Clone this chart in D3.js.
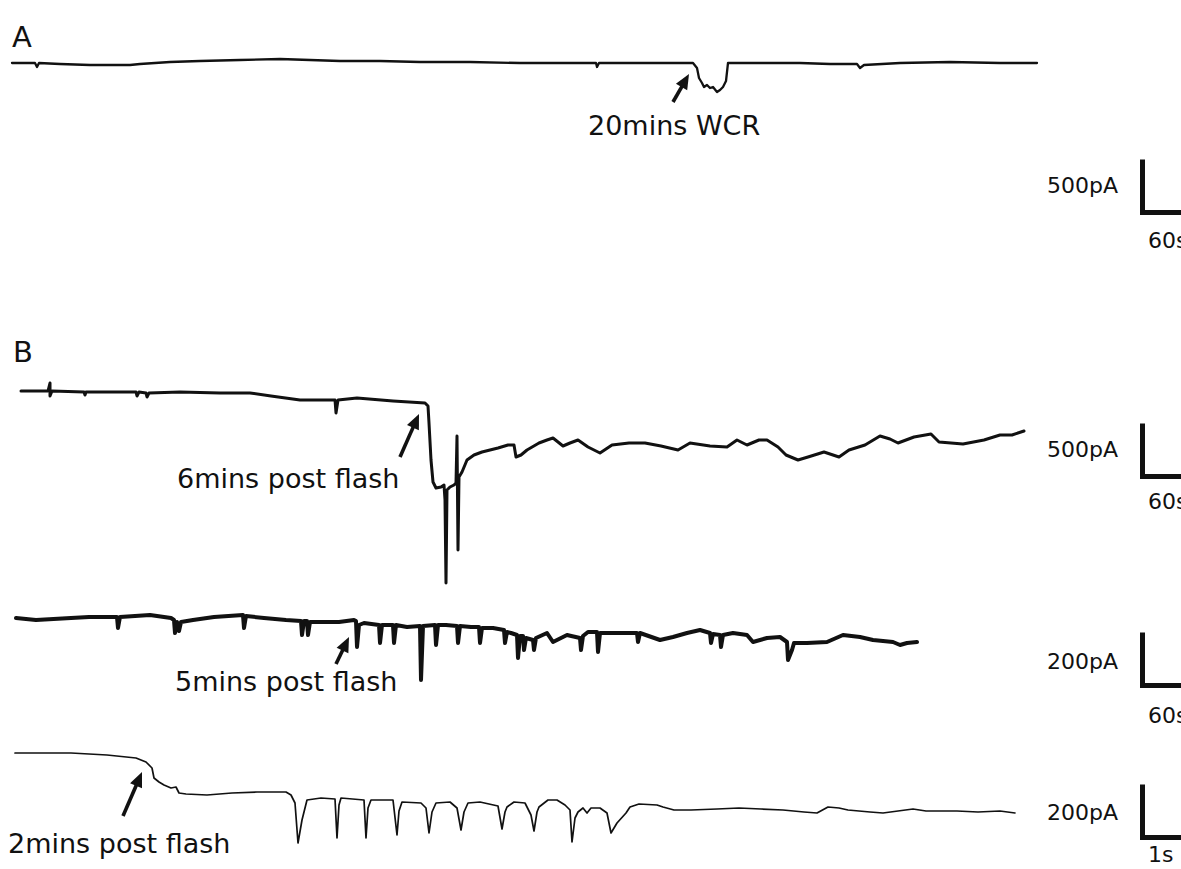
<!DOCTYPE html>
<html>
<head>
<meta charset="utf-8">
<script src="https://cdn.jsdelivr.net/npm/d3@7"></script>
<style>
  html, body { margin: 0; padding: 0; background: #fff; }
  svg { display: block; }
  text { font-family: "DejaVu Sans", sans-serif; fill: #111; }
</style>
</head>
<body>
<svg id="chart" width="1181" height="869"></svg>
<script>
// ---------------- DATA (time, current) ----------------
// Panel A : time in s, current in pA
const traceA_t = [0,18,23,25,27,48,78,118,128,158,188,228,268,298,328,368,408,458,508,584,585,587,628,681,685,687,690,692,695,698,701,705,708,711,714,715,716,748,788,818,845,848,852,888,938,988,1025];
const traceA_i = [0,0,0,-36,0,-9,-18,-18,-9,9,18,27,36,27,18,18,9,9,0,0,-36,0,0,0,-45,-135,-180,-216,-198,-225,-216,-261,-243,-216,-162,-81,0,0,0,-9,-9,-45,-18,0,9,0,0];

// Panel B, 6 mins post flash : time in s, current in pA
const traceB1_t = [0,27,29,29,31,63,64,65,115,116,118,125,126,128,159,199,229,250,279,299,314,315,317,336,372,404,407,408,410,412,415,420,423,424,425,426,429,433,435,436,437,438,441,446,453,461,469,477,487,493,495,500,506,518,526,532,542,549,557,567,579,591,608,624,640,657,669,689,706,716,726,738,746,757,765,777,787,803,818,828,844,859,869,877,893,910,918,942,963,979,991,1003];
const traceB1_i = [0,0,72,-45,0,-9,-36,-9,-9,-45,-9,-18,-54,-18,-9,-18,-18,-45,-81,-81,-81,-198,-81,-63,-90,-108,-135,-288,-621,-819,-873,-864,-846,-981,-1728,-891,-864,-846,-828,-405,-1431,-774,-729,-621,-576,-549,-531,-513,-486,-486,-594,-576,-531,-468,-441,-423,-495,-468,-441,-504,-558,-486,-468,-468,-495,-531,-468,-495,-504,-441,-486,-441,-441,-504,-576,-621,-594,-549,-594,-531,-486,-405,-432,-468,-414,-387,-459,-477,-441,-396,-396,-360];

// Panel B, 5 mins post flash : time in s, current in pA
const traceB2_t = [0,20,55,73,101,102,104,134,155,158,159,161,163,165,177,198,227,228,230,248,270,285,286,288,291,292,294,323,338,340,341,343,348,363,364,366,377,378,380,391,404,405,407,419,420,422,430,441,442,444,455,463,464,466,477,488,489,491,495,501,502,504,507,508,510,517,518,520,531,537,551,564,565,567,572,581,582,584,611,621,622,624,644,657,671,684,694,695,697,704,705,707,717,731,737,751,764,771,772,776,778,791,811,827,844,857,877,884,891,901];
const traceB2_i = [0,-7.2,0,3.6,3.6,-36,3.6,10.8,0,-7.2,-54,-14.4,-46.8,-14.4,-7.2,3.6,10.8,-36,7.2,0,-7.2,-10.8,-61.2,-10.8,-10.8,-61.2,-14.4,-14.4,-7.2,-10.8,-104.4,-25.2,-18,-25.2,-90,-25.2,-25.2,-90,-25.2,-32.4,-28.8,-223.2,-28.8,-25.2,-97.2,-25.2,-25.2,-28.8,-90,-28.8,-32.4,-32.4,-90,-36,-36,-43.2,-90,-50.4,-54,-61.2,-144,-64.8,-64.8,-115.2,-72,-79.2,-115.2,-72,-54,-86.4,-61.2,-72,-115.2,-64.8,-50.4,-50.4,-122.4,-54,-54,-54,-86.4,-54,-79.2,-68.4,-54,-43.2,-54,-90,-57.6,-61.2,-104.4,-61.2,-54,-61.2,-86.4,-72,-68.4,-86.4,-151.2,-115.2,-90,-90,-86.4,-61.2,-68.4,-79.2,-86.4,-97.2,-90,-86.4];

// Panel B, 2 mins post flash : time in ms, current in pA
const traceB3_t = [0,1120,1840,2420,2620,2740,2780,2880,2980,3120,3220,3280,3420,3840,4340,4840,5420,5520,5600,5660,5740,5840,6120,6400,6440,6480,6520,6980,7020,7060,7120,7560,7640,7680,7740,8120,8220,8280,8340,8420,8700,8840,8920,8980,9060,9300,9660,9740,9800,9840,9980,10200,10320,10380,10440,10480,10660,10840,11000,11100,11140,11200,11260,11360,11440,11520,11700,11840,11920,12040,12220,12300,12480,12840,12960,13180,13520,14040,14480,14920,15360,15780,16040,16260,16480,16660,17100,17360,17960,18220,18840,19260,19700,20000];
const traceB3_i = [0,0,-7.2,-18,-32.4,-54,-90,-104.4,-115.2,-126,-122.4,-144,-147.6,-151.2,-144,-140.4,-140.4,-151.2,-180,-324,-241.2,-169.2,-162,-165.6,-306,-187.2,-162,-169.2,-306,-198,-169.2,-169.2,-295.2,-208.8,-176.4,-180,-198,-288,-212.4,-180,-176.4,-198,-277.2,-212.4,-180,-176.4,-190.8,-273.6,-212.4,-194.4,-176.4,-180,-223.2,-280.8,-212.4,-194.4,-169.2,-169.2,-187.2,-205.2,-320.4,-234,-212.4,-198,-216,-198,-198,-216,-288,-252,-216,-194.4,-183.6,-187.2,-194.4,-205.2,-205.2,-201.6,-198,-201.6,-205.2,-212.4,-216,-194.4,-198,-205.2,-212.4,-216,-201.6,-208.8,-208.8,-212.4,-208.8,-216];

// Scale-bar values and labels
const barCurrents = [500, 500, 200, 200];          // pA
const barTimes    = [60, 60, 60, 1000];            // s, s, s, ms
const barCurrentLabels = ["500pA", "500pA", "200pA", "200pA"];
const barTimeLabels    = ["60s", "60s", "60s", "1s"];

// Annotations
const panelLabels = ["A", "B"];
const annotationLabels = ["20mins WCR", "6mins post flash", "5mins post flash", "2mins post flash"];

// ---------------- LAYOUT ----------------
const svg = d3.select("#chart");
svg.append("rect").attr("width", 1181).attr("height", 869).attr("fill", "#fff");

const rows = [
  { t: traceA_t,  v: traceA_i,  x0: 12, y0: 63,  pxPerT: 1,    pxPerPA: 1/9,   sw: 2.3, barBottom: 215, lblBase: 193, tBase: 248 },
  { t: traceB1_t, v: traceB1_i, x0: 21, y0: 391, pxPerT: 1,    pxPerPA: 1/9,   sw: 3.0, barBottom: 479, lblBase: 457, tBase: 509 },
  { t: traceB2_t, v: traceB2_i, x0: 16, y0: 618, pxPerT: 1,    pxPerPA: 1/3.6, sw: 4.0, barBottom: 688, lblBase: 669, tBase: 723 },
  { t: traceB3_t, v: traceB3_i, x0: 15, y0: 753, pxPerT: 0.05, pxPerPA: 1/3.6, sw: 1.7, barBottom: 840, lblBase: 820, tBase: 862 }
];

rows.forEach((r, k) => {
  const tMax = d3.max(r.t);
  const x = d3.scaleLinear().domain([0, tMax]).range([r.x0, r.x0 + tMax * r.pxPerT]);
  const y = d3.scaleLinear().domain([0, -1000]).range([r.y0, r.y0 + 1000 * r.pxPerPA]);
  const pts = r.t.map((t, i) => [t, r.v[i]]);
  const line = d3.line().x(d => x(d[0])).y(d => y(d[1]));
  svg.append("path").datum(pts)
    .attr("d", line)
    .attr("fill", "none")
    .attr("stroke", "#111")
    .attr("stroke-width", r.sw)
    .attr("stroke-linejoin", "round")
    .attr("stroke-linecap", "round");

  // scale bar built from the same scales
  const barH = y(-barCurrents[k]) - y(0);
  const barW = x(barTimes[k]) - x(0);
  const bx = 1142.5, by = r.barBottom;
  svg.append("path")
    .attr("d", `M${bx},${by - barH} L${bx},${by - 2.5} L${bx + barW},${by - 2.5}`)
    .attr("fill", "none").attr("stroke", "#111").attr("stroke-width", 5)
    .attr("stroke-linejoin", "miter");
  svg.append("text").attr("x", 1047).attr("y", r.lblBase)
    .attr("font-size", 22).text(barCurrentLabels[k]);
  svg.append("text").attr("x", 1148).attr("y", r.tBase)
    .attr("font-size", 22).text(barTimeLabels[k]);
});

// panel letters
svg.append("text").attr("x", 12).attr("y", 47).attr("font-size", 29).text(panelLabels[0]);
svg.append("text").attr("x", 13).attr("y", 362).attr("font-size", 29).text(panelLabels[1]);

// annotation texts + arrows
const annots = [
  { tx: 588, ty: 135, ax1: 673, ay1: 102, ax2: 689, ay2: 74 },
  { tx: 177, ty: 488, ax1: 400, ay1: 457, ax2: 419, ay2: 414 },
  { tx: 175, ty: 691, ax1: 336, ay1: 664, ax2: 349, ay2: 637 },
  { tx: 8,   ty: 853, ax1: 123, ay1: 816, ax2: 142, ay2: 772 }
];
annots.forEach((a, i) => {
  svg.append("text").attr("x", a.tx).attr("y", a.ty).attr("font-size", 27).text(annotationLabels[i]);
  const dx = a.ax2 - a.ax1, dy = a.ay2 - a.ay1;
  const len = Math.hypot(dx, dy);
  const ux = dx / len, uy = dy / len;
  const hl = 15, hw = 6.5;
  const bxp = a.ax2 - ux * hl, byp = a.ay2 - uy * hl;
  svg.append("line")
    .attr("x1", a.ax1).attr("y1", a.ay1).attr("x2", bxp + ux * 2).attr("y2", byp + uy * 2)
    .attr("stroke", "#111").attr("stroke-width", 3.6);
  svg.append("path")
    .attr("d", `M${a.ax2},${a.ay2} L${bxp - uy * hw},${byp + ux * hw} L${bxp + uy * hw},${byp - ux * hw} Z`)
    .attr("fill", "#111");
});
</script>
</body>
</html>
